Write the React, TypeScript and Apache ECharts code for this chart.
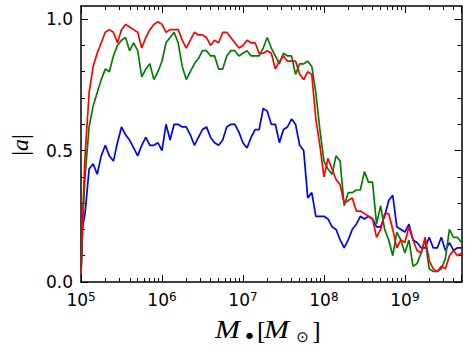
import React, { useEffect, useRef } from "react";
import * as echarts from "echarts";

// log10(M_bh / M_sun) sample positions
const LOG_MASS = [
  5.0, 5.02, 5.05, 5.1, 5.15, 5.2, 5.25, 5.3, 5.35, 5.4, 5.45, 5.5, 5.55, 5.6, 5.65, 5.7, 5.75, 5.8, 5.85, 5.9, 5.95,
  6.0, 6.05, 6.1, 6.15, 6.2, 6.25, 6.3, 6.35, 6.4, 6.45, 6.5, 6.55, 6.6, 6.65, 6.7, 6.75, 6.8, 6.85, 6.9, 6.95,
  7.0, 7.05, 7.1, 7.15, 7.2, 7.25, 7.3, 7.35, 7.4, 7.45, 7.5, 7.55, 7.6, 7.65, 7.7, 7.75, 7.8, 7.85, 7.9, 7.95,
  8.0, 8.05, 8.1, 8.15, 8.2, 8.25, 8.3, 8.35, 8.4, 8.45, 8.5, 8.55, 8.6, 8.65, 8.7, 8.75, 8.8, 8.85, 8.9, 8.95,
  9.0, 9.05, 9.1, 9.15, 9.2, 9.25, 9.3, 9.35, 9.4, 9.45, 9.5, 9.55, 9.6, 9.65, 9.7,
];

const RED = [
  0.03, 0.25, 0.48, 0.72, 0.82, 0.87, 0.91, 0.95, 0.96, 0.95, 0.91, 0.96, 0.98, 0.97, 0.96, 0.95, 0.89, 0.93, 0.96, 0.98, 0.99,
  0.98, 0.95, 0.96, 0.96, 0.96, 0.92, 0.89, 0.92, 0.95, 0.94, 0.94, 0.93, 0.9, 0.92, 0.91, 0.95, 0.95, 0.93, 0.91, 0.89,
  0.9, 0.92, 0.91, 0.91, 0.87, 0.87, 0.88, 0.87, 0.81, 0.84, 0.86, 0.84, 0.84, 0.84, 0.79, 0.77, 0.8, 0.79, 0.62, 0.52,
  0.4, 0.47, 0.43, 0.39, 0.37, 0.3, 0.31, 0.32, 0.27, 0.27, 0.26, 0.25, 0.24, 0.17, 0.2, 0.26, 0.26, 0.2, 0.13, 0.16,
  0.15, 0.21, 0.16, 0.12, 0.11, 0.17, 0.08, 0.05, 0.04, 0.06, 0.05, 0.1, 0.12, 0.1, 0.11,
];

const GREEN = [
  0.03, 0.22, 0.4, 0.59, 0.67, 0.72, 0.77, 0.81, 0.8, 0.86, 0.9, 0.92, 0.93, 0.88, 0.91, 0.88, 0.78, 0.81, 0.83, 0.77, 0.8,
  0.84, 0.91, 0.93, 0.95, 0.91, 0.82, 0.77, 0.8, 0.83, 0.85, 0.88, 0.88, 0.86, 0.86, 0.81, 0.81, 0.86, 0.88, 0.88, 0.86,
  0.87, 0.88, 0.86, 0.86, 0.86, 0.89, 0.93, 0.89, 0.86, 0.83, 0.87, 0.86, 0.86, 0.79, 0.83, 0.83, 0.84, 0.82, 0.72, 0.58,
  0.46, 0.43, 0.41, 0.48, 0.46, 0.29, 0.34, 0.34, 0.35, 0.35, 0.42, 0.38, 0.38, 0.22, 0.29, 0.2, 0.16, 0.1, 0.19, 0.16,
  0.11, 0.16, 0.06, 0.07, 0.11, 0.16, 0.05, 0.04, 0.04, 0.05, 0.09, 0.2, 0.17, 0.17, 0.15,
];

const BLUE = [
  0.03, 0.21, 0.26, 0.43, 0.45, 0.41, 0.48, 0.52, 0.48, 0.46, 0.53, 0.59, 0.56, 0.54, 0.51, 0.48, 0.52, 0.55, 0.52, 0.52, 0.53,
  0.5, 0.6, 0.54, 0.6, 0.6, 0.59, 0.59, 0.56, 0.52, 0.55, 0.58, 0.59, 0.55, 0.53, 0.52, 0.54, 0.59, 0.6, 0.6, 0.57,
  0.53, 0.51, 0.55, 0.58, 0.58, 0.66, 0.65, 0.6, 0.6, 0.53, 0.58, 0.59, 0.62, 0.6, 0.52, 0.5, 0.32, 0.34, 0.25, 0.25,
  0.25, 0.24, 0.21, 0.2, 0.16, 0.13, 0.16, 0.2, 0.22, 0.25, 0.24, 0.25, 0.24, 0.21, 0.21, 0.25, 0.31, 0.33, 0.21, 0.2,
  0.19, 0.22, 0.16, 0.15, 0.13, 0.13, 0.17, 0.13, 0.13, 0.17, 0.12, 0.15, 0.12, 0.13, 0.13,
];

const X_MIN = 1e5;
const X_MAX = 5e9;
const Y_MIN = 0;
const Y_MAX = 1.05;
const Y_MAJOR = [0, 0.5, 1.0];
const Y_MINOR = [0.1, 0.2, 0.3, 0.4, 0.6, 0.7, 0.8, 0.9];
const DECADES = [5, 6, 7, 8, 9];

const SERIES = [
  { name: "blue", color: "#0000ff", values: BLUE },
  { name: "green", color: "#008000", values: GREEN },
  { name: "red", color: "#ff0000", values: RED },
];

export default function App() {
  const ref = useRef<HTMLDivElement>(null);

  useEffect(() => {
    if (!ref.current) return;
    const chart = echarts.init(ref.current, undefined, { renderer: "svg" });

    const logMax = Math.log10(X_MAX);
    const xMinor: number[] = [];
    DECADES.forEach((d) => {
      for (let k = 2; k <= 9; k++) {
        const v = d + Math.log10(k);
        if (v < logMax) xMinor.push(v);
      }
    });

    const black = "#000";
    const spine = { show: true, onZero: false, lineStyle: { color: black, width: 1.5 } };
    const noLine = { show: false, onZero: false };

    const logLabel = (v: number) => {
      const e = Math.log10(v);
      const r = Math.round(e);
      if (Math.abs(e - r) > 1e-6) return "";
      return `{b|10}{s|${r}}`;
    };

    const mathText = (text: string, x: number, y: number, size: number, italic: boolean, align: string, scaleX = 1, family = "Liberation Serif") => ({
      type: "text",
      x,
      y,
      scaleX,
      style: {
        text,
        fontSize: size,
        fontStyle: italic ? "italic" : "normal",
        fontFamily: family,
        fill: black,
        align,
        verticalAlign: "middle",
      },
    });

    const option: any = {
      animation: false,
      backgroundColor: "#fff",
      grid: { left: 81, top: 6, width: 380.5, height: 276, containLabel: false },
      xAxis: [
        {
          type: "log",
          logBase: 10,
          min: X_MIN,
          max: X_MAX,
          position: "bottom",
          axisLine: spine,
          axisTick: { show: true, inside: true, length: 7, lineStyle: { color: black, width: 1 } },
          axisLabel: {
            show: true,
            margin: 9,
            formatter: logLabel,
            color: black,
            rich: {
              b: { fontSize: 17, fontFamily: "DejaVu Sans", color: black },
              s: { fontSize: 12, fontFamily: "DejaVu Sans", color: black, verticalAlign: "top", lineHeight: 8 },
            },
          },
          splitLine: { show: false },
        },
        {
          type: "value",
          min: 5,
          max: logMax,
          position: "bottom",
          axisLine: noLine,
          axisTick: { show: true, inside: true, length: 4, customValues: xMinor, lineStyle: { color: black, width: 1 } },
          axisLabel: { show: false },
          splitLine: { show: false },
        },
        {
          type: "log",
          logBase: 10,
          min: X_MIN,
          max: X_MAX,
          position: "top",
          axisLine: spine,
          axisTick: { show: true, inside: true, length: 7, lineStyle: { color: black, width: 1 } },
          axisLabel: { show: false },
          splitLine: { show: false },
        },
        {
          type: "value",
          min: 5,
          max: logMax,
          position: "top",
          axisLine: noLine,
          axisTick: { show: true, inside: true, length: 4, customValues: xMinor, lineStyle: { color: black, width: 1 } },
          axisLabel: { show: false },
          splitLine: { show: false },
        },
      ],
      yAxis: [
        {
          type: "value",
          min: Y_MIN,
          max: Y_MAX,
          position: "left",
          axisLine: spine,
          axisTick: { show: true, inside: true, length: 7, customValues: Y_MAJOR, lineStyle: { color: black, width: 1 } },
          axisLabel: {
            show: true,
            margin: 8,
            customValues: Y_MAJOR,
            formatter: (v: number) => v.toFixed(1),
            fontSize: 17,
            fontFamily: "DejaVu Sans",
            color: black,
          },
          splitLine: { show: false },
        },
        {
          type: "value",
          min: Y_MIN,
          max: Y_MAX,
          position: "left",
          axisLine: noLine,
          axisTick: { show: true, inside: true, length: 4, customValues: Y_MINOR, lineStyle: { color: black, width: 1 } },
          axisLabel: { show: false },
          splitLine: { show: false },
        },
        {
          type: "value",
          min: Y_MIN,
          max: Y_MAX,
          position: "right",
          axisLine: spine,
          axisTick: { show: true, inside: true, length: 7, customValues: Y_MAJOR, lineStyle: { color: black, width: 1 } },
          axisLabel: { show: false },
          splitLine: { show: false },
        },
        {
          type: "value",
          min: Y_MIN,
          max: Y_MAX,
          position: "right",
          axisLine: noLine,
          axisTick: { show: true, inside: true, length: 4, customValues: Y_MINOR, lineStyle: { color: black, width: 1 } },
          axisLabel: { show: false },
          splitLine: { show: false },
        },
      ],
      series: SERIES.map((s) => ({
        name: s.name,
        type: "line",
        xAxisIndex: 0,
        yAxisIndex: 0,
        showSymbol: false,
        symbol: "none",
        clip: true,
        lineStyle: { color: s.color, width: 1.7 },
        itemStyle: { color: s.color },
        data: LOG_MASS.map((lx, i) => [Math.pow(10, lx), s.values[i]]),
      })),
      graphic: [
        {
          type: "text",
          x: 20,
          y: 145,
          rotation: Math.PI / 2,
          style: {
            text: "|{i|a}|",
            fontSize: 24,
            fontFamily: "Liberation Serif",
            fill: black,
            align: "center",
            verticalAlign: "middle",
            rich: { i: { fontSize: 24, fontStyle: "italic", fontFamily: "Liberation Serif", color: black } },
          },
        },
        mathText("M", 215, 329, 25, true, "left", 1.2),
        mathText("•", 249.5, 336.5, 22, false, "center", 1, "DejaVu Sans"),
        mathText("[", 257, 330.5, 26, false, "left"),
        mathText("M", 264, 329, 25, true, "left", 1.2),
        mathText("⊙", 302.5, 337, 15, false, "center", 1, "DejaVu Sans"),
        mathText("]", 312, 330.5, 26, false, "left"),
      ],
    };

    chart.setOption(option);
    return () => chart.dispose();
  }, []);

  return (
    <div
      ref={ref}
      style={{ position: "fixed", left: 0, top: 0, width: 471, height: 350, background: "#fff" }}
    />
  );
}
